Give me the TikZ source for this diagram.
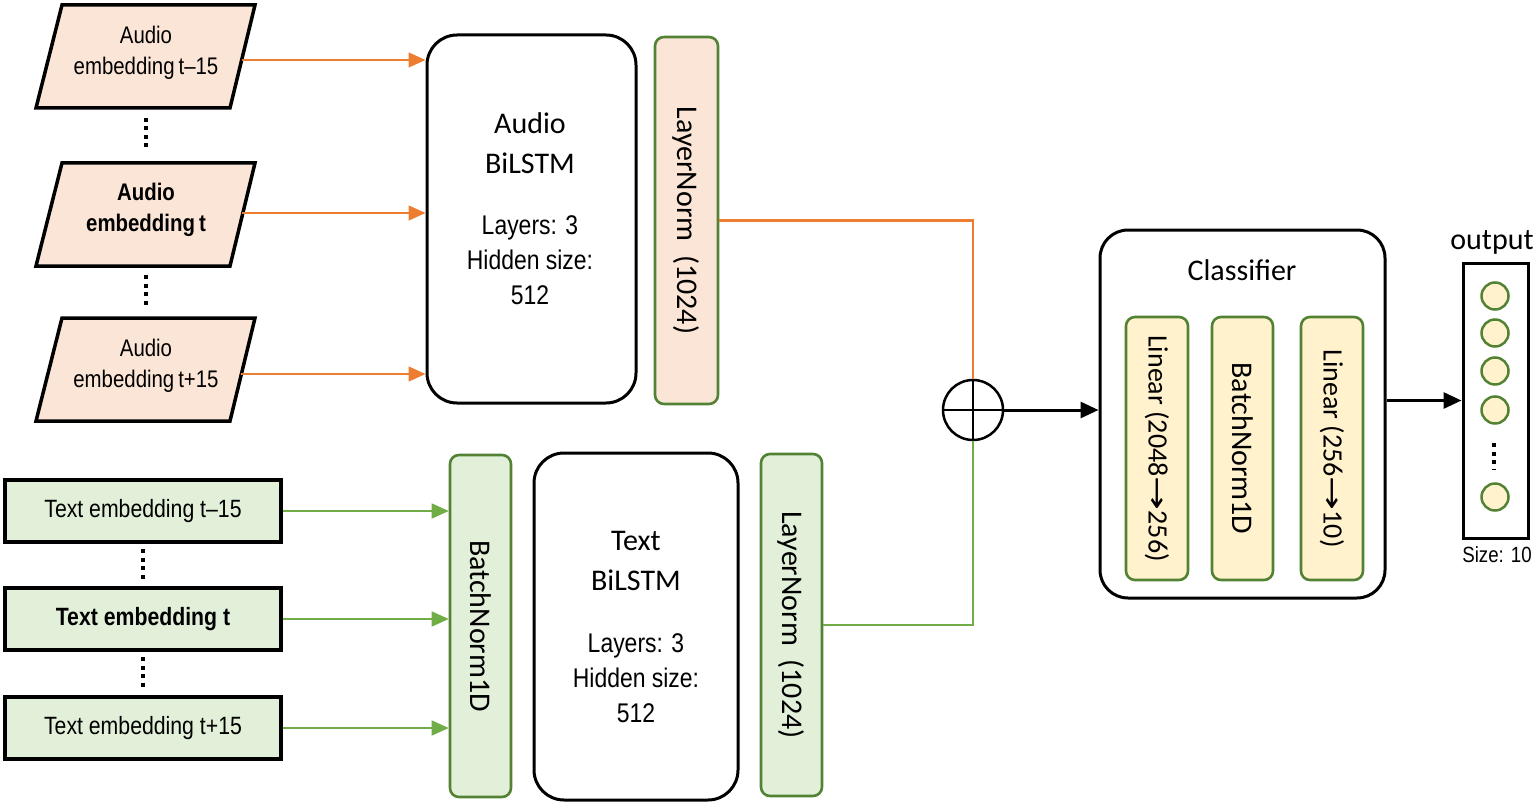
\documentclass[tikz,border=0pt]{standalone}
\usepackage{fontspec}
\setmainfont{Carlito}
\newfontfamily\nar[FakeStretch=0.85]{Liberation Sans}
\newfontfamily\symf{DejaVu Sans}
\usetikzlibrary{arrows.meta}
\definecolor{peach}{HTML}{FBE5D6}
\definecolor{lgreen}{HTML}{E2F0D9}
\definecolor{lyellow}{HTML}{FFF2CC}
\definecolor{dgreen}{HTML}{548235}
\definecolor{orng}{HTML}{ED7D31}
\definecolor{mgreen}{HTML}{70AD47}
\newcommand{\longarr}{\scalebox{1.45}[1]{\symf →}}
\begin{document}
\begin{tikzpicture}[x=1pt,y=-1pt,
  bigbox/.style={draw=black, line width=3pt, rounded corners=30pt, fill=white, inner sep=0pt},
  nbox/.style={draw=dgreen, line width=2.6pt, rounded corners=9pt, inner sep=0pt},
  para/.style={draw=black, line width=3.5pt, fill=peach, line join=miter},
  tbox/.style={draw=black, line width=3.5pt, fill=lgreen, inner sep=0pt, minimum width=276pt, minimum height=62pt, font=\nar\fontsize{25}{28}\selectfont},
  ptext/.style={align=center, font=\nar\fontsize{24}{31}\selectfont},
  ttext/.style={align=center, inner sep=0pt, font=\fontsize{30}{40}\selectfont},
  ltext/.style={align=center, inner sep=0pt, font=\nar\fontsize{27}{35}\selectfont},
  rtext/.style={rotate=-90, font=\fontsize{30}{36}\selectfont},
  oarr/.style={draw=orng, line width=1.5pt, -{Triangle[length=17pt,width=15pt]}},
  garr/.style={draw=mgreen, line width=1.5pt, -{Triangle[length=17pt,width=15pt]}},
  karr/.style={draw=black, line width=3pt, -{Triangle[length=18pt,width=16pt]}},
  vdots/.style={line width=3.5pt, dash pattern=on 4pt off 4.5pt},
  neuron/.style={circle, draw=dgreen, line width=2.5pt, fill=lyellow, minimum size=27pt, inner sep=0pt}
]
\useasboundingbox (0,0) rectangle (1538,805);

% ---------- audio inputs ----------
\foreach \t in {5,163,318}{
  \draw[para] (62,\t) -- (255,\t) -- (230,\t+103) -- (36,\t+103) -- cycle;
}
\node[ptext] (a1) at (146,53) {Audio\\embedding\,t–15};
\node[ptext, font=\nar\bfseries\fontsize{24}{31}\selectfont] (a2) at (146,210) {Audio\\embedding\,t};
\node[ptext] (a3) at (146,366) {Audio\\embedding\,t+15};
\coordinate (a1r) at (242,60);
\coordinate (a2r) at (242,213);
\coordinate (a3r) at (241,374);
\draw[vdots] (146,118) -- (146,148);
\draw[vdots] (146,275) -- (146,305);

% ---------- audio BiLSTM ----------
\node[bigbox, minimum width=209pt, minimum height=368pt] (abil) at (531.5,219) {};
\node[ttext] (abilt) at (530,143) {Audio\\BiLSTM};
\node[ltext] (abilp) at (530,260) {Layers: 3\\Hidden size:\\512};
\node[nbox, fill=peach, minimum width=63pt, minimum height=367pt] (aln) at (686.5,220.5) {};
\node[rtext] at (aln.center) {LayerNorm\ \ (1024)};

\draw[oarr] (a1r) -- (a1r -| abil.west);
\draw[oarr] (a2r) -- (a2r -| abil.west);
\draw[oarr] (a3r) -- (a3r -| abil.west);

% ---------- text inputs ----------
\node[tbox] (t1) at (143,511) {Text embedding t–15};
\node[tbox, font=\nar\bfseries\fontsize{25}{28}\selectfont] (t2) at (143,619) {Text embedding t};
\node[tbox] (t3) at (143,728) {Text embedding t+15};
\draw[vdots] (143,549) -- (143,580);
\draw[vdots] (143,657) -- (143,688);

\node[nbox, fill=lgreen, minimum width=61pt, minimum height=342pt] (bn) at (480.5,626) {};
\node[rtext] at (bn.center) {BatchNorm1D};

\draw[garr] (t1.east) -- (t1.east -| bn.west);
\draw[garr] (t2.east) -- (t2.east -| bn.west);
\draw[garr] (t3.east) -- (t3.east -| bn.west);

% ---------- text BiLSTM ----------
\node[bigbox, minimum width=204pt, minimum height=347pt] (tbil) at (636,626.5) {};
\node[ttext] (tbilt) at (636,561) {Text\\BiLSTM};
\node[ltext] (tbilp) at (636,678) {Layers: 3\\Hidden size:\\512};
\node[nbox, fill=lgreen, minimum width=61pt, minimum height=342pt] (tln) at (791.5,625) {};
\node[rtext] at (tln.center) {LayerNorm\ \ (1024)};

% ---------- fusion ----------
\node[circle, draw=black, line width=2.5pt, minimum size=60pt, inner sep=0pt] (plus) at (973,410) {};
\draw[line width=2.5pt] (plus.north) -- (plus.south);
\draw[line width=2.5pt] (plus.west) -- (plus.east);
\draw[draw=orng, line width=2.5pt] (aln.east) -| (plus.north);
\draw[draw=mgreen, line width=2.5pt] (tln.east) -| (plus.south);

% ---------- classifier ----------
\node[bigbox, rounded corners=28pt, minimum width=285pt, minimum height=368pt] (cls) at (1242.5,414) {};
\node[font=\fontsize{30}{36}\selectfont] (clst) at (1242,270) {Classifier};
\node[nbox, fill=lyellow, minimum width=62pt, minimum height=263pt] (lin1) at (1157,448.5) {};
\node[nbox, fill=lyellow, minimum width=61pt, minimum height=263pt] (bn2) at (1242.5,448.5) {};
\node[nbox, fill=lyellow, minimum width=62pt, minimum height=263pt] (lin2) at (1332,448.5) {};
\node[rtext, font=\fontsize{28}{34}\selectfont] at (lin1.center) {Linear (2048\longarr256)};
\node[rtext] at (bn2.center) {BatchNorm1D};
\node[rtext, font=\fontsize{28}{34}\selectfont] at (lin2.center) {Linear (256\longarr10)};

\draw[karr] (plus.east) -- (plus.east -| cls.west);

% ---------- output ----------
\node[draw=black, line width=3pt, minimum width=65pt, minimum height=275pt, inner sep=0pt] (out) at (1495.5,400.5) {};
\node[font=\fontsize{30}{36}\selectfont] (outt) at (1492,242) {output};
\node[font=\nar\fontsize{22}{26}\selectfont] (outs) at (1497,555) {Size: 10};
\node[neuron] (n1) at (1495,296) {};
\node[neuron] (n2) at (1495,333) {};
\node[neuron] (n3) at (1495,371) {};
\node[neuron] (n4) at (1495,410) {};
\node[neuron] (n5) at (1495,497) {};
\draw[line width=3.5pt, dash pattern=on 4pt off 4.5pt] (1494,443) -- (1494,469);

\draw[karr] (cls.east |- out.west) -- (out.west);
\end{tikzpicture}
\end{document}
